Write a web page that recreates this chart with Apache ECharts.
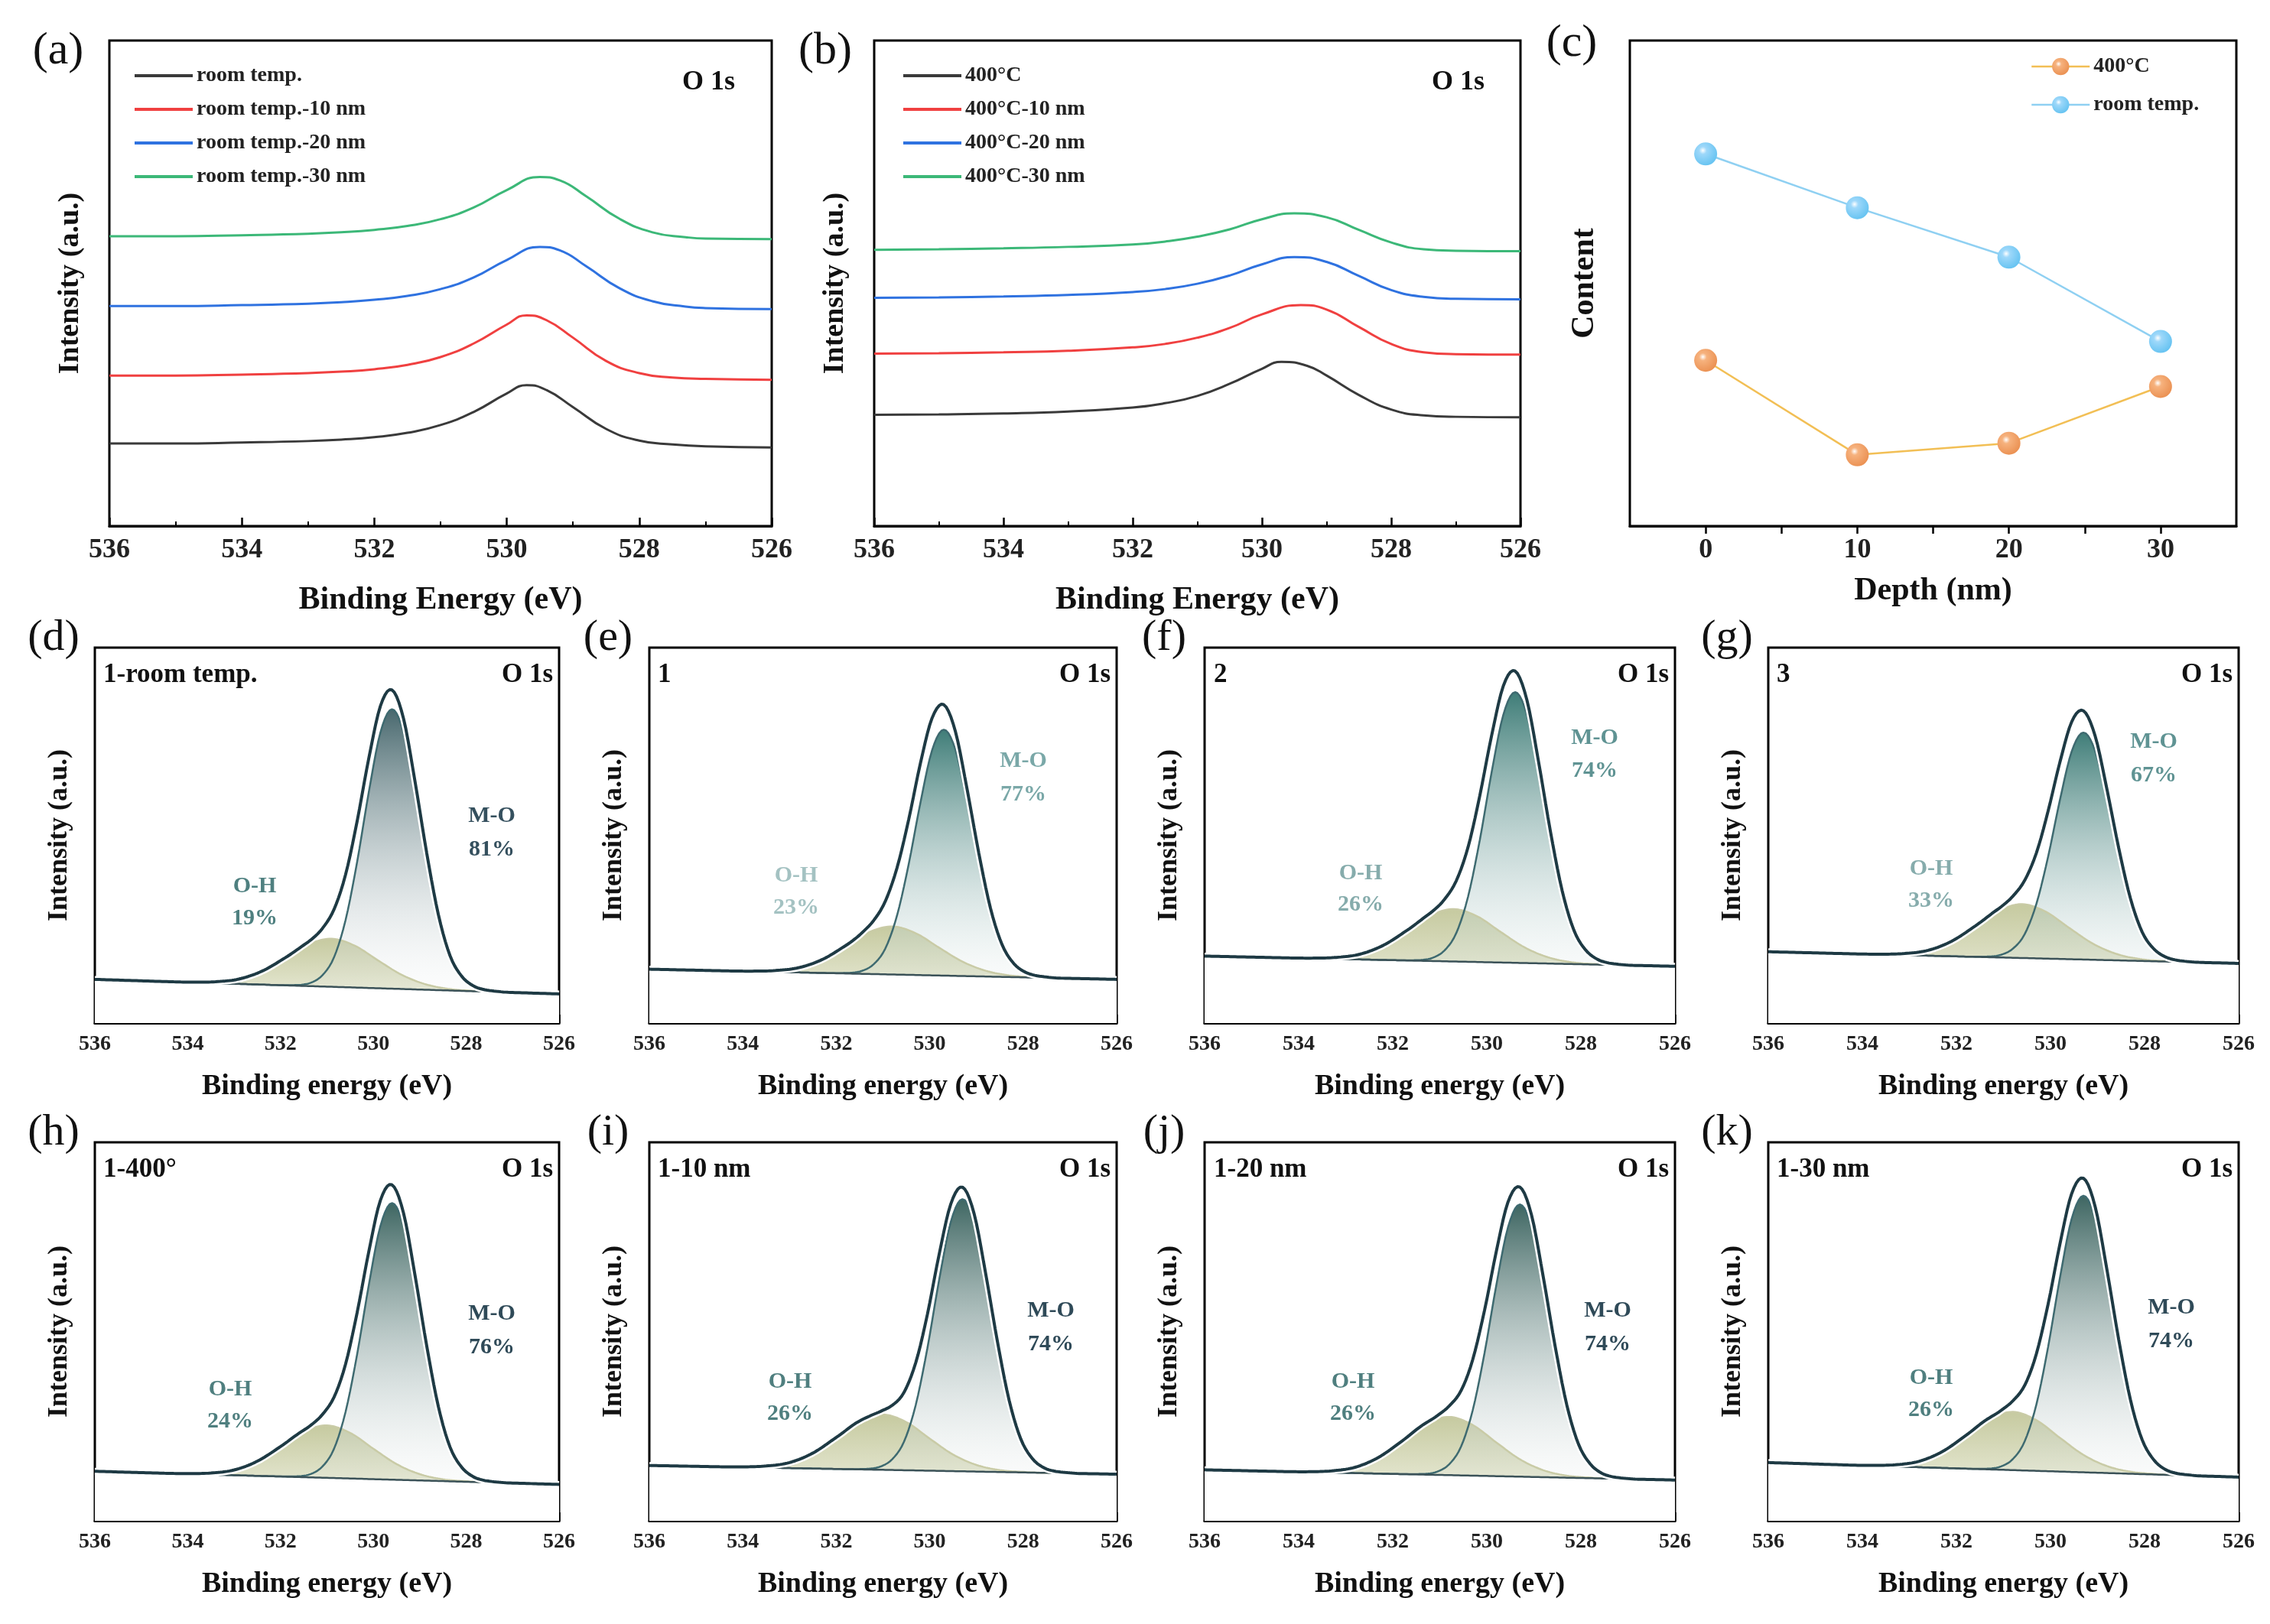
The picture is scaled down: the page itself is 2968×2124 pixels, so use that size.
<!DOCTYPE html>
<html><head><meta charset="utf-8">
<script src="https://cdn.jsdelivr.net/npm/echarts@6/dist/echarts.min.js"></script>
<style>html,body{margin:0;background:#fff}#c{width:2968px;height:2124px}</style>
</head><body><div id="c"></div>
<script>
// ---------- DATA ----------
const legendA = ['room temp.','room temp.-10 nm','room temp.-20 nm','room temp.-30 nm'];
const a0 = [[536,17.0],[535,17.0],[534,17.2],[533,17.5],[532.5,17.8],[532,18.3],[531.5,19.2],[531,20.8],[530.5,23.5],[530,27.3],[529.7,29.0],[529.4,28.0],[529,24.5],[528.5,20.0],[528,17.6],[527.5,16.8],[527,16.4],[526,16.2]];
const a10 = [[536,31.0],[535,31.0],[534,31.2],[533,31.5],[532.5,31.8],[532,32.3],[531.5,33.2],[531,34.8],[530.5,37.6],[530,41.5],[529.7,43.4],[529.4,42.4],[529,38.8],[528.5,34.0],[528,31.5],[527.5,30.6],[527,30.3],[526,30.1]];
const a20 = [[536,45.3],[535,45.3],[534,45.5],[533,45.8],[532.5,46.1],[532,46.6],[531.5,47.4],[531,48.8],[530.5,51.2],[530,54.8],[529.5,57.5],[529.2,56.8],[528.8,53.5],[528.3,49.0],[527.8,46.3],[527.3,45.2],[527,44.9],[526,44.7]];
const a30 = [[536,59.7],[535,59.7],[534,59.9],[533,60.2],[532.5,60.5],[532,61.0],[531.5,61.8],[531,63.2],[530.5,65.6],[530,69.2],[529.5,71.9],[529.2,71.2],[528.8,67.9],[528.3,63.3],[527.8,60.5],[527.3,59.5],[527,59.2],[526,59.1]];
const legendB = ['400°C','400°C-10 nm','400°C-20 nm','400°C-30 nm'];
const b0 = [[536,22.9],[535,23.0],[534,23.2],[533,23.6],[532,24.4],[531.5,25.3],[531,26.8],[530.5,29.3],[530,32.4],[529.7,33.8],[529.3,33.0],[529,31.0],[528.5,27.0],[528,24.0],[527.5,22.8],[527,22.5],[526,22.4]];
const b10 = [[536,35.5],[535,35.6],[534,35.8],[533,36.1],[532,36.8],[531.5,37.5],[531,38.8],[530.5,40.8],[530,43.6],[529.4,45.5],[529,44.6],[528.5,41.0],[528,37.5],[527.5,35.8],[527,35.4],[526,35.3]];
const b20 = [[536,47.0],[535,47.1],[534,47.3],[533,47.6],[532,48.2],[531.5,48.8],[531,49.9],[530.5,51.6],[530,53.9],[529.5,55.4],[529,54.4],[528.5,51.5],[528,48.6],[527.5,47.2],[527,46.8],[526,46.7]];
const b30 = [[536,56.9],[535,57.0],[534,57.2],[533,57.5],[532,58.0],[531.5,58.6],[531,59.6],[530.5,61.1],[530,63.2],[529.5,64.4],[529,63.6],[528.5,61.0],[528,58.4],[527.5,57.0],[527,56.7],[526,56.6]];
const depth = [0,10,20,30];
const content400 = [114,49,57,96];
const contentRT = [256,219,185,127];
// peak shape templates (offset from centre in eV, relative height)
const moDx = [-2.5,-2,-1.75,-1.5,-1.25,-1,-0.75,-0.5,-0.25,0,0.25,0.5,0.75,1,1.25,1.5,1.75,2,2.5];
const moV  = [0,0.006,0.018,0.05,0.12,0.26,0.47,0.71,0.92,1,0.915,0.7,0.45,0.24,0.105,0.04,0.012,0.003,0];
const ohDx = [-3.5,-3,-2.5,-2,-1.5,-1,-0.5,0,0.5,1,1.5,2,2.5,3,3.5];
const ohV  = [0,0.01,0.035,0.12,0.3,0.58,0.87,1,0.87,0.57,0.28,0.1,0.03,0.006,0];
// fitted panels
const fitTitles = ['1-room temp.','1','2','3','1-400°','1-10 nm','1-20 nm','1-30 nm'];
const fitTags = ['(d)','(e)','(f)','(g)','(h)','(i)','(j)','(k)'];
const baseLeft  = [30,37,46,49,34,38,35,40];
const baseRight = [20,30,39,41,25,32,28,30];
const moCentre = [529.6,529.7,529.4,529.3,529.6,529.3,529.3,529.3];
const moHeight = [192,169,186,156,190,187,187,190];
const ohCentre = [530.9,530.8,530.7,530.6,531.0,531.0,530.8,530.8];
const ohHeight = [33,33,36,37,36,38,40,40];
const moShare = ['81%','77%','74%','67%','76%','74%','74%','74%'];
const ohShare = ['19%','23%','26%','33%','24%','26%','26%','26%'];

// ---------- LAYOUT ----------
const S = 2968/1560;
const F = 'Liberation Serif, Times New Roman, serif';
const fitBoxes = [[65,445,319,258],[446,445,321,258],[828,445,323,258],[1215,445,323,258],
                  [65,785,319,260],[446,785,321,260],[828,785,323,260],[1215,785,323,260]];
const moLabelPos = [[338,561],[703,523],[1096,507],[1480,510],[338,903],[722,901],[1105,901],[1492,899]];
const ohLabelPos = [[175,609],[547,602],[935,600],[1327,597],[158,955],[543,950],[930,950],[1327,947]];
const moLabelCol = ['#35505e','#7aa8a8','#5f9393','#5f9393','#2f4a58','#2f4a58','#2f4a58','#2f4a58'];
const ohLabelCol = ['#4f8080','#a4c2c2','#86acac','#86acac','#4f7f7f','#4f7f7f','#4f7f7f','#4f7f7f'];
const moFill = ['#48686e','#3f7d78','#3f7d78','#3f7d78','#3e6662','#3e6662','#3e6662','#3e6662'];

const grids=[], xAxes=[], yAxes=[], series=[], legends=[], graphics=[];
function px(v){return Math.round(v*S);}
function addGrid(b){grids.push({left:px(b[0]),top:px(b[1]),width:px(b[2]),height:px(b[3]),show:true,borderColor:'#000',borderWidth:3,backgroundColor:'transparent'});return grids.length-1;}
function energyAxis(gi, fs, nameFs, nameGap, name){
  xAxes.push({gridIndex:gi,type:'value',min:526,max:536,interval:2,inverse:true,
    name:name,nameLocation:'middle',nameGap:nameGap,nameTextStyle:{fontFamily:F,fontWeight:'bold',fontSize:nameFs,color:'#111'},
    axisLine:{show:true,onZero:false,lineStyle:{color:'#000',width:3}},
    axisTick:{inside:true,length:11,lineStyle:{width:2.5,color:'#000'}},
    minorTick:{show:true,splitNumber:2,length:6,lineStyle:{width:2,color:'#000'}},
    splitLine:{show:false},
    axisLabel:{fontFamily:F,fontWeight:'bold',fontSize:fs,color:'#222',margin:14}});
}
function hiddenY(gi,max,name,nameFs,nameGap){
  yAxes.push({gridIndex:gi,type:'value',min:0,max:max,name:name,nameLocation:'middle',nameGap:nameGap,
    nameTextStyle:{fontFamily:F,fontWeight:'bold',fontSize:nameFs,color:'#111'},
    axisLine:{show:false},axisTick:{show:false},axisLabel:{show:false},splitLine:{show:false}});
}
function text(x,y,t,fs,opt){graphics.push({type:'text',x:px(x),y:px(y),style:Object.assign({text:t,fontFamily:F,fontSize:fs,fontWeight:'bold',fill:'#111',textAlign:'center',textVerticalAlign:'middle'},opt||{})});}

// (a) and (b)
[[ [75,28,455,334], legendA, [a0,a10,a20,a30], '(a)', [40,35], 90 ],
 [ [601,28,444,334], legendB, [b0,b10,b20,b30], '(b)', [567,35], 618 ]].forEach(p=>{
  const gi = addGrid(p[0]);
  energyAxis(gi,36,42,76,'Binding Energy (eV)');
  hiddenY(gi,100,'Intensity (a.u.)',38,32);
  const cols=['#3a3a3a','#f04040','#2f72e0','#3cb878'];
  p[2].forEach((d,i)=>series.push({name:p[1][i],type:'line',xAxisIndex:gi,yAxisIndex:gi,data:d,smooth:0.5,symbol:'none',lineStyle:{color:cols[i],width:3},itemStyle:{color:cols[i]}}));
  legends.push({data:p[1],orient:'vertical',left:px(p[5]),top:px(42),itemWidth:76,itemHeight:4,itemGap:16,icon:'rect',
    textStyle:{fontFamily:F,fontWeight:'bold',fontSize:28,color:'#222'}});
  text(p[4][0],p[4][1],p[3],60,{fontWeight:'normal'});
  text(p[0][0]+p[0][2]-25,57,'O 1s',36,{textAlign:'right'});
});
// (c)
{
  const gi = addGrid([1120,28,417,334]);
  xAxes.push({gridIndex:gi,type:'value',min:-5,max:35,name:'Depth (nm)',nameLocation:'middle',nameGap:64,
    nameTextStyle:{fontFamily:F,fontWeight:'bold',fontSize:42,color:'#111'},
    axisLine:{show:true,lineStyle:{color:'#000',width:3}},
    axisTick:{inside:false,length:10,customValues:[0,5,10,15,20,25,30],lineStyle:{width:2.5,color:'#000'}},
    axisLabel:{customValues:[0,10,20,30],fontFamily:F,fontWeight:'bold',fontSize:36,color:'#222',margin:14},splitLine:{show:false}});
  hiddenY(gi,334,'Content',42,38);
  const ball=(c1,c2)=>({type:'radial',x:0.38,y:0.35,r:0.75,colorStops:[{offset:0,color:'#ffffff'},{offset:0.22,color:c1},{offset:1,color:c2}]});
  series.push({name:'400°C',type:'line',xAxisIndex:gi,yAxisIndex:gi,data:depth.map((d,i)=>[d,content400[i]]),symbol:'circle',symbolSize:30,
    lineStyle:{color:'#f2bf55',width:2.5},itemStyle:{color:ball('#f6b27e','#e98c4c')}});
  series.push({name:'room temp.',type:'line',xAxisIndex:gi,yAxisIndex:gi,data:depth.map((d,i)=>[d,contentRT[i]]),symbol:'circle',symbolSize:30,
    lineStyle:{color:'#8fd0f2',width:2.5},itemStyle:{color:ball('#9ed8fa','#5ec0f0')}});
  legends.push({data:[
      {name:'400°C',itemStyle:{color:ball('#f6b27e','#e98c4c')},lineStyle:{color:'#f2bf55',width:2.5}},
      {name:'room temp.',itemStyle:{color:ball('#9ed8fa','#5ec0f0')},lineStyle:{color:'#8fd0f2',width:2.5}}],
    orient:'vertical',left:px(1393),top:px(36),itemWidth:76,itemHeight:28,itemGap:22,
    textStyle:{fontFamily:F,fontWeight:'bold',fontSize:28,color:'#222'}});
  text(1080,30,'(c)',60,{fontWeight:'normal'});
}
// (d)-(k)
function interp(dx,v,x){
  if(x<=dx[0]||x>=dx[dx.length-1]) return 0;
  let i=1; while(x>dx[i]) i++;
  const p0=v[Math.max(i-2,0)],p1=v[i-1],p2=v[i],p3=v[Math.min(i+1,v.length-1)];
  const t=(x-dx[i-1])/(dx[i]-dx[i-1]);
  const t2=t*t,t3=t2*t;
  return Math.max(0,0.5*((2*p1)+(-p0+p2)*t+(2*p0-5*p1+4*p2-p3)*t2+(-p0+3*p1-3*p2+p3)*t3));
}
fitBoxes.forEach((b,k)=>{
  const gi = addGrid(b);
  energyAxis(gi,28,38,64,'Binding energy (eV)');
  hiddenY(gi,b[3],'Intensity (a.u.)',36,28);
  const oh=[],mo=[],base=[],env=[];
  for(let j=0;j<=200;j++){
    const x=536-j*0.05;
    const bl=baseLeft[k]+(baseRight[k]-baseLeft[k])*(536-x)/10;
    const vo=ohHeight[k]*interp(ohDx,ohV,x-ohCentre[k]);
    const vm=moHeight[k]*interp(moDx,moV,x-moCentre[k]);
    oh.push([x,bl+vo]); mo.push([x,bl+vm]); base.push([x,bl]); env.push([x,bl+vo+vm]);
  }
  const common={type:'line',xAxisIndex:gi,yAxisIndex:gi,symbol:'none',smooth:false,silent:true};
  series.push(Object.assign({},common,{data:oh,lineStyle:{color:'#c9cba6',width:2.5},
    areaStyle:{opacity:1,color:{type:'linear',x:0,y:0,x2:0,y2:1,colorStops:[{offset:0,color:'#c6caa0'},{offset:1,color:'#f7f8ee'}]}}}));
  series.push(Object.assign({},common,{data:mo,lineStyle:{color:'#3e6a70',width:2.5},
    areaStyle:{opacity:1,color:{type:'linear',x:0,y:0,x2:0,y2:1,colorStops:[{offset:0,color:moFill[k]},{offset:1,color:'rgba(255,255,255,0.05)'}]}}}));
  series.push(Object.assign({},common,{data:base,lineStyle:{color:'#3b5258',width:2.5},areaStyle:{opacity:1,color:'#ffffff'}}));
  series.push(Object.assign({},common,{data:env,lineStyle:{color:'#ffffff',width:9}}));
  series.push(Object.assign({},common,{data:env,lineStyle:{color:'#1e3a44',width:4}}));
  text(b[0]-28,b[1]-6,fitTags[k],58,{fontWeight:'normal'});
  const ty=b[1]+19;
  text(b[0]+6,ty,fitTitles[k],35,{textAlign:'left'});
  text(b[0]+b[2]-4,ty,'O 1s',35,{textAlign:'right'});
  text(moLabelPos[k][0],moLabelPos[k][1],'M-O',30,{fill:moLabelCol[k]});
  text(moLabelPos[k][0],moLabelPos[k][1]+23,moShare[k],30,{fill:moLabelCol[k]});
  text(ohLabelPos[k][0],ohLabelPos[k][1],'O-H',30,{fill:ohLabelCol[k]});
  text(ohLabelPos[k][0],ohLabelPos[k][1]+22,ohShare[k],30,{fill:ohLabelCol[k]});
});

const chart=echarts.init(document.getElementById('c'));
chart.setOption({animation:false,backgroundColor:'#fff',grid:grids,xAxis:xAxes,yAxis:yAxes,series:series,legend:legends,graphic:graphics});
</script></body></html>
